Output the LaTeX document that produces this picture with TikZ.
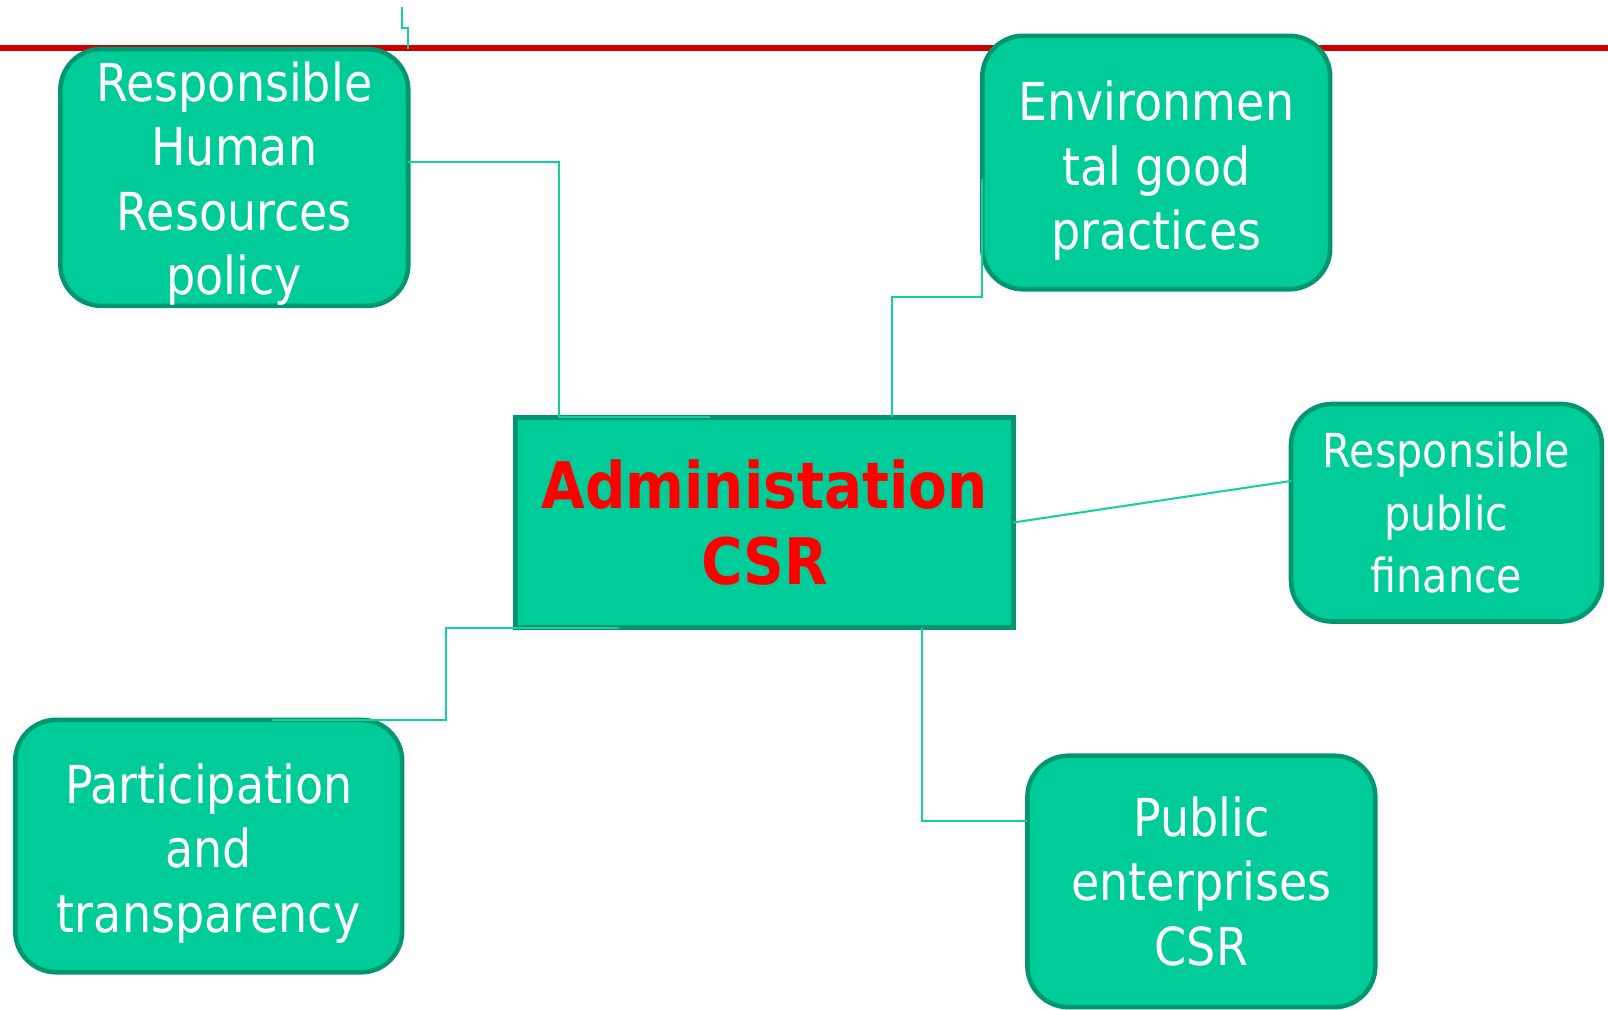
\documentclass[tikz,border=0pt]{standalone}
\usepackage{fontspec}
\setmainfont{DejaVu Sans}[FakeStretch=0.88]
\definecolor{csrgreen}{RGB}{0,204,153}
\definecolor{csrdark}{RGB}{0,150,112}
\definecolor{csrline}{RGB}{20,208,158}
\definecolor{csrred}{RGB}{204,0,0}
\newcommand{\lift}[1]{\rule{0pt}{#1}}
\begin{document}
\begin{tikzpicture}[x=0.01cm,y=-0.01cm,
  topic/.style={draw=csrdark,line width=0.045cm,fill=csrgreen,rounded corners=0.4cm,text=white,align=center,inner sep=0pt,outer sep=0pt,font=\fontsize{14.5}{17.9}\selectfont},
  link/.style={draw=csrline,line width=0.02cm}]
\useasboundingbox (0,0) rectangle (1568,984);
\draw[csrred,line width=0.055cm] (0,46.5) -- (1568,46.5);
\node[topic,minimum width=3.39cm,minimum height=2.48cm] (hr) at (228.5,173) {\lift{14.5pt}Responsible\\Human\\Resources\\policy};
\node[topic,minimum width=3.39cm,minimum height=2.47cm] (env) at (1127.5,158.5) {\lift{15.6pt}Environmen\\tal good\\practices};
\node[topic,rounded corners=0pt,minimum width=4.85cm,minimum height=2.05cm,text=red,font=\fontsize{17.8}{21.3}\selectfont\bfseries] (adm) at (745.5,509.5) {Administation\\CSR};
\node[topic,minimum width=3.03cm,minimum height=2.12cm,font=\fontsize{13}{17.4}\selectfont] (fin) at (1410.5,500) {Responsible\\public\\finance};
\node[topic,minimum width=3.77cm,minimum height=2.46cm] (part) at (203.5,825) {\lift{15pt}Participation\\and\\transparency};
\node[topic,minimum width=3.39cm,minimum height=2.45cm] (pub) at (1171.5,859.5) {Public\\enterprises\\CSR};
\coordinate (stub) at (392,7);
\draw[link] (stub) |- (398,27) -- (hr.north -| 398,0);
\draw[link] (hr.east |- 0,158) -| (adm.north -| 545,0) -- (adm.north -| 692,0);
\draw[link] (env.west |- 0,175) -- (env.west |- 0,290) -| (adm.north -| 870,0);
\draw[link] (adm.east) -- (fin.west |- 0,469);
\draw[link] (adm.south -| 604,0) -- (adm.south -| 435,0) |- (part.north -| 265,0);
\draw[link] (adm.south -| 899,0) |- (pub.west |- 0,801);
\end{tikzpicture}
\end{document}
